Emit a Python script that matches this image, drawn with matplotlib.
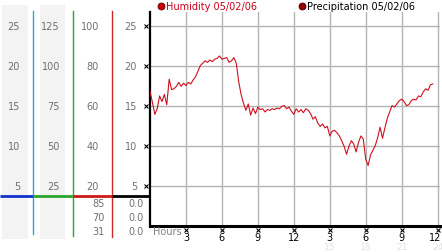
import numpy as np
import matplotlib.pyplot as plt
import matplotlib.transforms as mtransforms

# humidity readings, one every 12 minutes from midnight
humidity = [16.8, 15.4, 13.9, 14.6, 16.2, 15.5, 16.4, 15.1, 18.3, 17.0,
            17.1, 17.4, 17.9, 17.4, 17.8, 17.5, 17.9, 17.7, 18.2, 18.6,
            19.3, 20.0, 20.3, 20.6, 20.4, 20.7, 20.5, 20.8, 20.9, 21.2,
            20.8, 20.9, 21.0, 20.4, 20.6, 21.0, 20.3, 18.0, 16.4, 15.3,
            14.4, 15.2, 13.8, 14.7, 14.0, 14.8, 14.5, 14.6, 14.2, 14.5,
            14.4, 14.6, 14.5, 14.7, 14.6, 14.9, 15.0, 14.6, 14.8, 14.3,
            13.9, 14.6, 14.2, 14.5, 14.1, 14.6, 14.4, 14.0, 13.3, 13.6,
            12.8, 12.4, 12.7, 12.2, 12.4, 11.2, 11.8, 11.9, 11.6, 11.2,
            10.6, 9.9, 8.9, 9.9, 10.6, 10.2, 9.2, 10.4, 11.2, 10.8,
            8.3, 7.5, 8.8, 9.4, 10.0, 11.0, 12.3, 10.9, 12.2, 13.4,
            14.2, 15.0, 14.8, 15.2, 15.6, 15.8, 15.5, 15.0, 15.1, 15.6,
            15.8, 15.7, 16.2, 16.1, 16.7, 17.1, 16.9, 17.6, 17.7]
hours = np.arange(len(humidity)) * 0.2

hour_ticks = [3, 6, 9, 12, 15, 18, 21, 24]
hour_labels = ['3', '6', '9', '12', '3', '6', '9', '12']
faint_ticks = [15, 18, 21, 24]
faint_labels = ['15', '18', '21', '24']

scale_ticks = [25, 20, 15, 10, 5]
scale1 = ['25', '20', '15', '10', '5']
scale2 = ['125', '100', '75', '50', '25']
scale3 = ['100', '80', '60', '40', '20']
scale4 = ['25', '20', '15', '10', '5']
extra3 = ['85', '70', '31']
extra4 = ['0.0', '0.0', '0.0']

W, H = 442, 253
fig = plt.figure(figsize=(W / 100, H / 100), dpi=100)

# pixel-space background layer for the scale columns
bg = fig.add_axes([0, 0, 1, 1])
bg.set_xlim(0, W)
bg.set_ylim(H, 0)
bg.axis('off')

ax = fig.add_axes([150 / W, (H - 226.5) / H, 290 / W, (226.5 - 13) / H])
ax.set_facecolor('none')
ax.set_xlim(0, 24.2)
ax.set_ylim(0, 26.7)

# grid
for t in hour_ticks:
    ax.axvline(t, color='#b4b4b4', lw=1, zorder=1)
for t in scale_ticks:
    ax.axhline(t, color='#b4b4b4', lw=1, zorder=1)

ax.plot(hours, humidity, color='#d0101e', lw=0.8, zorder=3)

for s in ['top', 'right']:
    ax.spines[s].set_visible(False)
ax.spines['left'].set_linewidth(1.6)
ax.spines['bottom'].set_linewidth(2.2)
ax.set_yticks([])
ax.set_xticks(hour_ticks, hour_labels)
ax.tick_params(axis='x', length=0, pad=4.5, labelsize=7, colors='black')
# pull the last label in a touch so it stays inside the picture
last = ax.get_xticklabels()[-1]
last.set_transform(last.get_transform() +
                   mtransforms.ScaledTranslation(-2 / 100, 0, fig.dpi_scale_trans))

# little tick marks
xmark = mtransforms.blended_transform_factory(ax.transData, bg.transData)
ymark = mtransforms.blended_transform_factory(bg.transData, ax.transData)
ax.plot(hour_ticks, [230.5] * len(hour_ticks), ls='none', marker='x', ms=3,
        mew=0.8, color='black', transform=xmark, clip_on=False)
ax.plot([146] * len(scale_ticks), scale_ticks, ls='none', marker='x', ms=3,
        mew=0.8, color='black', transform=ymark, clip_on=False)
for t, lab in zip(faint_ticks, faint_labels):
    ax.text(t, 248, lab, transform=xmark, ha='center', va='center',
            fontsize=6.5, color='#e2e2e2')
ax.text(153, 232, 'Hours', transform=bg.transData, ha='left', va='center',
        fontsize=7, color='#808080')

# scale columns on the left
bg.axvspan(2, 28, ymin=(H - 240) / H, ymax=(H - 6) / H, color='#f3f3f3', lw=0)
bg.axvspan(40, 65, ymin=(H - 240) / H, ymax=(H - 6) / H, color='#f3f3f3', lw=0)
bg.plot([33, 33], [12, 235], color='#2ba7c8', lw=1)
bg.plot([72.7, 72.7], [12, 237], color='#2aa52a', lw=1)
bg.plot([111.7, 111.7], [12, 238], color='#cc2a2a', lw=1)
bg.plot([0, 33], [196.7, 196.7], color='#1030d0', lw=2, solid_capstyle='butt')
bg.plot([33, 73], [196.7, 196.7], color='#2aa52a', lw=2, solid_capstyle='butt')
bg.plot([73, 112], [196.7, 196.7], color='#d01818', lw=2, solid_capstyle='butt')
bg.plot([112, 150], [196.7, 196.7], color='black', lw=2, solid_capstyle='butt')

for labels, xr in [(scale1, 20), (scale2, 60), (scale3, 99), (scale4, 137)]:
    for t, lab in zip(scale_ticks, labels):
        ax.text(xr, t, lab, transform=ymark, ha='right', va='center',
                fontsize=7, color='#707070')
for i, (a, b) in enumerate(zip(extra3, extra4)):
    y = 204.3 + 14 * i
    bg.text(105, y, a, ha='right', va='center', fontsize=7, color='#707070')
    bg.text(144, y, b, ha='right', va='center', fontsize=7, color='#707070')

# legend
bg.plot(160.7, 7, 'o', ms=5, mfc='#cc0000', mec='#660000', mew=0.6)
bg.text(166, 7, 'Humidity 05/02/06', ha='left', va='center', fontsize=7,
        color='#cc0018')
bg.plot(301.7, 7, 'o', ms=5, mfc='#990000', mec='#440000', mew=0.6)
bg.text(307, 7, 'Precipitation 05/02/06', ha='left', va='center', fontsize=7,
        color='black')

fig.savefig('out.png', dpi=100)
